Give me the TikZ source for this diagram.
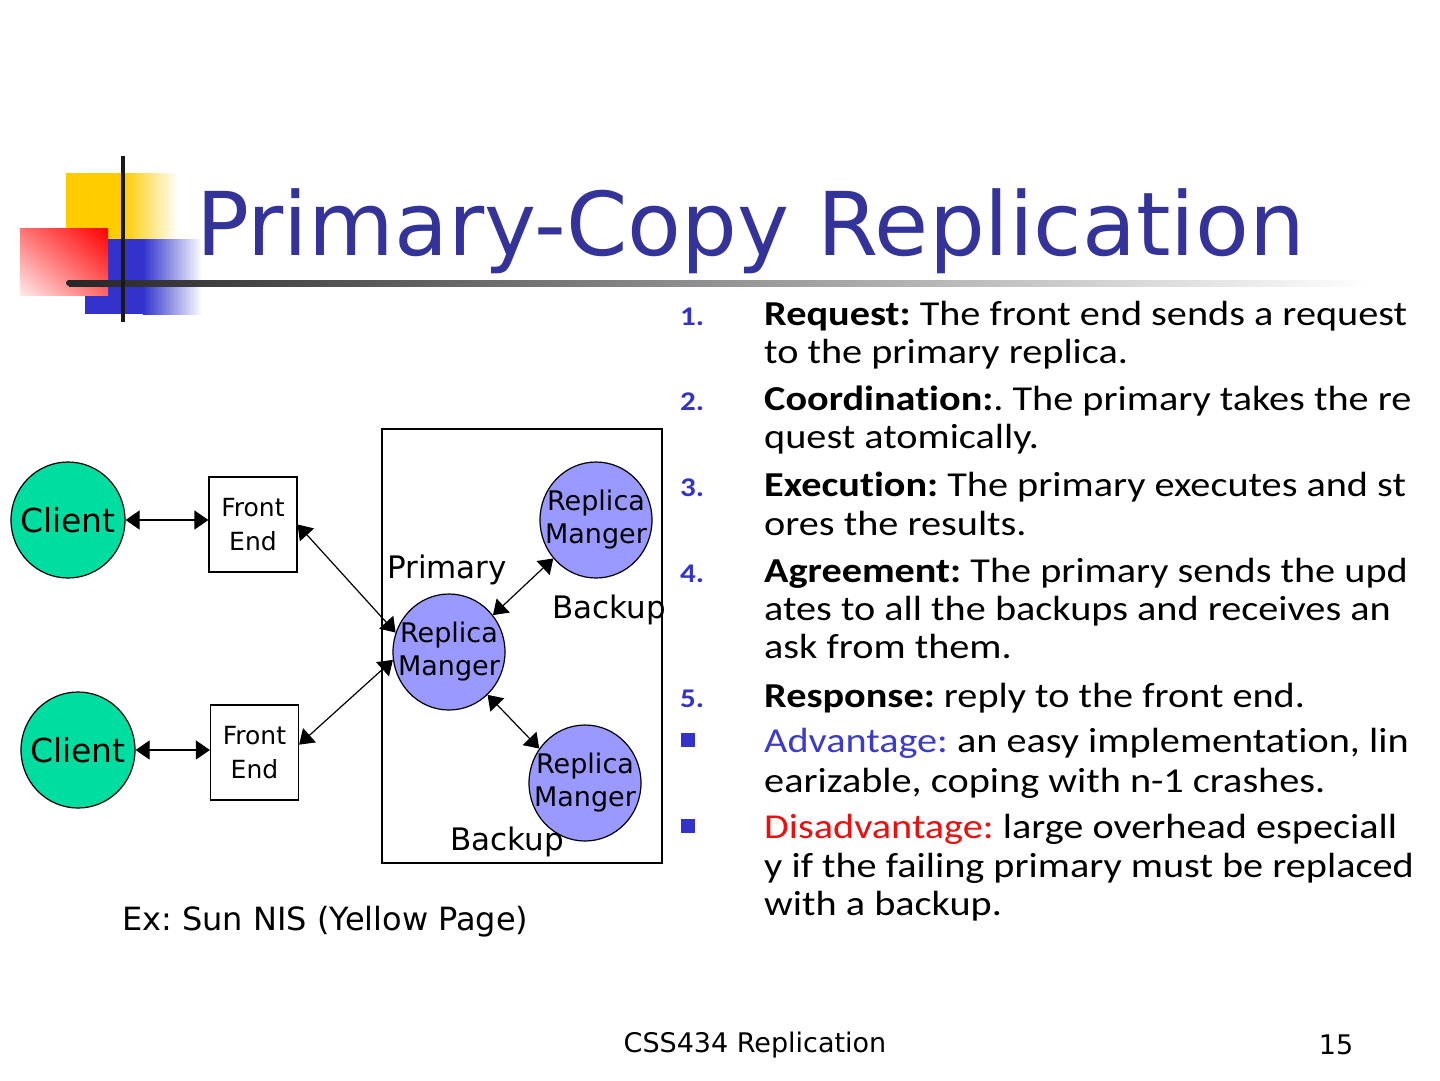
\documentclass[tikz,border=0pt]{standalone}
\usepackage{fontspec}
\setmainfont{DejaVu Sans}
\newfontfamily\listfont[Ligatures=NoCommon]{Carlito}
\usepackage{graphicx}
\usetikzlibrary{shapes.geometric,arrows.meta,shadings}
\definecolor{titleblue}{RGB}{51,51,153}
\definecolor{numblue}{RGB}{51,51,204}
\definecolor{advblue}{RGB}{60,60,200}
\definecolor{disred}{RGB}{235,15,15}
\definecolor{clientgreen}{RGB}{0,221,160}
\definecolor{rmblue}{RGB}{153,153,255}
\definecolor{logoyellow}{RGB}{255,204,0}
\definecolor{logoblue}{RGB}{51,51,204}
\newcommand{\listwide}[1]{\scalebox{1.15}[1]{#1}}
\frenchspacing

\begin{document}
\begin{tikzpicture}[x=1pt,y=-1pt,
    client/.style={ellipse, draw, line width=1.2pt, fill=clientgreen,
        minimum width=114pt, minimum height=116pt, inner sep=0pt,
        label={[font=\fontsize{33}{36}\selectfont]center:Client}},
    rm/.style={ellipse, draw, line width=1.2pt, fill=rmblue,
        minimum width=112pt, minimum height=116pt, inner sep=0pt,
        label={[align=center, inner sep=0pt, font=\fontsize{27}{33}\selectfont]center:{Replica\\Manger}}},
    fe/.style={draw, line width=1.2pt, minimum width=88pt, minimum height=95pt,
        inner sep=0pt, align=center, font=\fontsize{25}{34}\selectfont},
    link/.style={line width=1.2pt, {Triangle[length=14pt,width=19pt]}-{Triangle[length=14pt,width=19pt]}},
    tag/.style={inner sep=0pt, font=\fontsize{31}{36}\selectfont},
    listline/.style={anchor=base west, inner sep=0pt, font=\listfont\fontsize{35}{38}\selectfont},
    numlbl/.style={anchor=base west, inner sep=0pt, text=numblue, font=\listfont\bfseries\fontsize{27}{30}\selectfont}]

    \useasboundingbox (0,0) rectangle (1440,1080);
    \fill[white] (0,0) rectangle (1440,1080);

    % Logo blocks
    \fill[logoyellow] (66,173) rectangle (123,240);
    \shade[left color=logoyellow, right color=white] (123,173) rectangle (178,240);
    \fill[logoblue] (85,239) rectangle (143,314);
    \shade[left color=logoblue, right color=white] (143,239) rectangle (202,314);
    \shade[upper right=red, upper left=red!55, lower right=red!60, lower left=red!8] (20,228) rectangle (108,295);

    % Title rule and logo bars
    \shade[left color=black!85, middle color=black!45, right color=white] (69,280) rectangle (1370,286);
    \fill[black!85] (69,283) circle (3);
    \draw[line width=4.5pt, black!90] (123,156) -- (123,322);

    % Title
    \node[anchor=base west, inner sep=0pt, text=titleblue, font=\fontsize{88}{100}\selectfont] (title) at (196,255) {Primary-Copy Replication};

    % Replica group
    \node[draw, line width=1.2pt, minimum width=280pt, minimum height=434pt] (group) at (522,646) {};

    % Clients and front ends
    \node[client] (c1) at (68,520) {};
    \node[client] (c2) at (78,750) {};
    \node[fe] (fe1) at (253,524.5) {Front\\End};
    \node[fe] (fe2) at (254.5,752.5) {Front\\End};

    % Replica managers
    \node[rm] (prim) at (449,652) {};
    \node[rm] (bk1) at (596,520) {};
    \node[rm] (bk2) at (585,783) {};

    \node[tag] (primlbl) at (447,570) {Primary};
    \node[tag] (bk1lbl) at (609,610) {Backup};
    \node[tag] (bk2lbl) at (507,842) {Backup};

    % Links
    \draw[link] (c1.east) -- (c1.east -| fe1.west);
    \draw[link] (c2.east) -- (c2.east -| fe2.west);
    \draw[link] (fe1.east) -- (prim.160);
    \draw[link] (fe2.10) -- (prim.188);
    \draw[link] (prim.40) -- (bk1.222);
    \draw[link] (prim.312) -- (bk2.143);

    \node[tag, anchor=west, font=\fontsize{32}{36}\selectfont] (example) at (122,922) {Ex: Sun NIS (Yellow Page)};

    % Steps
    \node[numlbl] (n1) at (680,325) {\listwide{1.}};
    \node[listline] (l1a) at (764,325) {\listwide{\textbf{Request:} The front end sends a request}};
    \node[listline] (l1b) at (764,363) {\listwide{to the primary replica.}};
    \node[numlbl] (n2) at (680,410) {\listwide{2.}};
    \node[listline] (l2a) at (764,410) {\listwide{\textbf{Coordination:}. The primary takes the re}};
    \node[listline] (l2b) at (764,448) {\listwide{quest atomically.}};
    \node[numlbl] (n3) at (680,496) {\listwide{3.}};
    \node[listline] (l3a) at (764,496) {\listwide{\textbf{Execution:} The primary executes and st}};
    \node[listline] (l3b) at (764,535) {\listwide{ores the results.}};
    \node[numlbl] (n4) at (680,582) {\listwide{4.}};
    \node[listline] (l4a) at (764,582) {\listwide{\textbf{Agreement:} The primary sends the upd}};
    \node[listline] (l4b) at (764,620) {\listwide{ates to all the backups and receives an}};
    \node[listline] (l4c) at (764,658) {\listwide{ask from them.}};
    \node[numlbl] (n5) at (680,707) {\listwide{5.}};
    \node[listline] (l5a) at (764,707) {\listwide{\textbf{Response:} reply to the front end.}};

    % Pros and cons
    \fill[numblue] (681,733) rectangle (695,747);
    \node[listline] (adva) at (764,752) {\listwide{\textcolor{advblue}{Advantage:} an easy implementation, lin}};
    \node[listline] (advb) at (764,792) {\listwide{earizable, coping with n-1 crashes.}};
    \fill[numblue] (681,819) rectangle (695,833);
    \node[listline] (disa) at (764,838) {\listwide{\textcolor{disred}{Disadvantage:} large overhead especiall}};
    \node[listline] (disb) at (764,877) {\listwide{y if the failing primary must be replaced}};
    \node[listline] (disc) at (764,915) {\listwide{with a backup.}};

    % Footer
    \node[font=\fontsize{27}{30}\selectfont] (footer) at (755,1045) {CSS434 Replication};
    \node[font=\fontsize{27}{30}\selectfont] (page) at (1336,1045) {15};
\end{tikzpicture}
\end{document}
